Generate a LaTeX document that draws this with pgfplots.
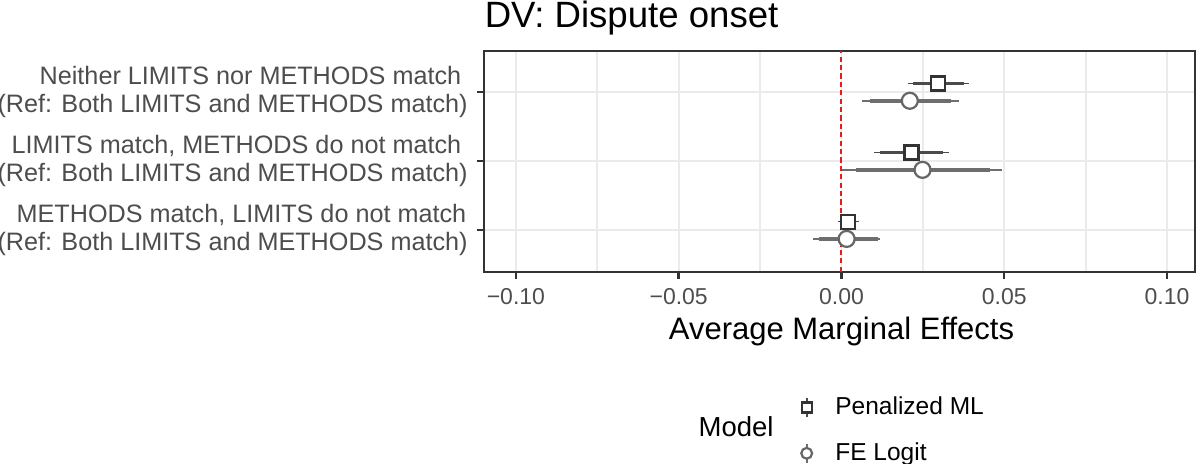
\documentclass[border=0pt]{standalone}
\usepackage{pgfplots}
\pgfplotsset{compat=1.18}
\usepackage{pgfplotstable}
\usepackage{fontspec}
\setmainfont{Liberation Sans}
\definecolor{gridc}{RGB}{235,235,235}
\definecolor{axc}{RGB}{51,51,51}
\definecolor{txtc}{RGB}{77,77,77}
\definecolor{sqc}{RGB}{51,51,51}
\definecolor{sqline}{RGB}{75,75,75}
\definecolor{cic}{RGB}{102,102,102}
\definecolor{ciline}{RGB}{110,110,110}
\definecolor{zeroc}{RGB}{228,30,30}

% y = category position with dodge; m = estimate; 95% (thin) and 90% (thick) intervals
\pgfplotstableread{
y m lo95 hi95 lo90 hi90
3.125 0.0297 0.0203 0.0391 0.0220 0.0377
2.125 0.0215 0.0101 0.0330 0.0118 0.0312
1.125 0.0021 -0.0012 0.0054 0.0000 0.0044
}\pml
\pgfplotstableread{
y m lo95 hi95 lo90 hi90
2.875 0.0210 0.0062 0.0360 0.0087 0.0338
1.875 0.0249 0.0003 0.0494 0.0044 0.0456
0.875 0.0016 -0.0087 0.0118 -0.0068 0.0113
}\fel
\pgfplotstableread{
x y
0 0.4
0 3.6
}\zeroline

\begin{document}
\begin{tikzpicture}
\path[use as bounding box] (0,0) rectangle (600pt,231.5pt);
\begin{axis}[
  name=ax,
  at={(242pt,95.65pt)}, anchor=south west,
  scale only axis, width=355.5pt, height=110.5pt,
  xmin=-0.1098, xmax=0.1086, ymin=0.4, ymax=3.6,
  axis line style={draw=axc, line width=0.8pt},
  xtick={-0.1,-0.05,0,0.05,0.1},
  xticklabels={−0.10,−0.05,0.00,0.05,0.10},
  minor xtick={-0.075,-0.025,0.025,0.075},
  ytick={1,2,3},
  yticklabels={
    {METHODS match, LIMITS do not match\hspace*{0.7pt}\\(Ref: Both LIMITS and METHODS match)},
    {LIMITS match, METHODS do not match\hspace*{3.2pt}\\(Ref: Both LIMITS and METHODS match)},
    {Neither LIMITS nor METHODS match\hspace*{3.2pt}\\(Ref: Both LIMITS and METHODS match)}},
  grid=both,
  major grid style={draw=gridc, line width=0.9pt},
  minor grid style={draw=gridc, line width=0.9pt},
  tick align=outside,
  tick pos=left,
  major tick length=3.5pt,
  minor tick length=0pt,
  tick style={draw=axc, line width=1.2pt},
  xticklabel style={font=\fontsize{11.5}{13.8}\selectfont, text=txtc, anchor=base, inner sep=0pt, yshift=-12.65pt},
  yticklabel style={font=\fontsize{12.6}{14}\selectfont, text=txtc, align=right, anchor=east, inner sep=0pt, xshift=-4.5pt},
  xlabel={Average Marginal Effects},
  xlabel style={at={(rel axis cs:0.5,0)}, anchor=base, inner sep=0pt, xshift=1pt, yshift=-33.8pt, font=\fontsize{15.5}{18}\selectfont},
  title={DV: Dispute onset},
  title style={at={(rel axis cs:0,1)}, anchor=base west, inner sep=0pt, xshift=0.2pt, yshift=5.85pt, font=\fontsize{18.3}{21}\selectfont},
  legend style={at={(rel axis cs:0,0)}, anchor=north west, xshift=157.35pt, yshift=-56.45pt,
    draw=none, fill=none, inner sep=0pt, outer sep=0pt, row sep=0pt, column sep=0pt,
    font=\fontsize{12.25}{14}\selectfont, nodes={inner sep=0pt, outer sep=0pt}},
  legend cell align=left,
]
\addplot[draw=zeroc, line width=1.0pt, dash pattern=on 2.6pt off 1.6pt, mark=none, forget plot] table[x=x, y=y] {\zeroline};

% Penalized ML intervals
\addplot[draw=none, mark=none, forget plot, error bars/.cd, x dir=both, x explicit, error mark=none,
  error bar style={draw=sqline, line width=0.8pt}]
  table[x=m, y=y, x error plus expr=\thisrow{hi95}-\thisrow{m}, x error minus expr=\thisrow{m}-\thisrow{lo95}] {\pml};
\addplot[draw=none, mark=none, forget plot, error bars/.cd, x dir=both, x explicit, error mark=none,
  error bar style={draw=sqline, line width=1.8pt}]
  table[x=m, y=y, x error plus expr=\thisrow{hi90}-\thisrow{m}, x error minus expr=\thisrow{m}-\thisrow{lo90}] {\pml};
% FE Logit intervals
\addplot[draw=none, mark=none, forget plot, error bars/.cd, x dir=both, x explicit, error mark=none,
  error bar style={draw=ciline, line width=0.8pt}]
  table[x=m, y=y, x error plus expr=\thisrow{hi95}-\thisrow{m}, x error minus expr=\thisrow{m}-\thisrow{lo95}] {\fel};
\addplot[draw=none, mark=none, forget plot, error bars/.cd, x dir=both, x explicit, error mark=none,
  error bar style={draw=ciline, line width=1.8pt}]
  table[x=m, y=y, x error plus expr=\thisrow{hi90}-\thisrow{m}, x error minus expr=\thisrow{m}-\thisrow{lo90}] {\fel};

\addplot[only marks, mark=square*, mark size=3.5pt, mark options={draw=sqc, fill=white, line width=1.1pt},
  legend image code/.code={
    \path[draw=none, fill=none] (-4pt,-11.45pt) rectangle (14.35pt,11.45pt);
    \draw[sqline, line width=1pt] (0pt,-4.8pt) -- (0pt,4.8pt);
    \draw[sqc, fill=white, line width=1.1pt] (-2.5pt,-2.5pt) rectangle (2.5pt,2.5pt);}]
  table[x=m, y=y] {\pml};
\addlegendentry{Penalized ML}
\addplot[only marks, mark=*, mark size=4pt, mark options={draw=cic, fill=white, line width=1.1pt},
  legend image code/.code={
    \path[draw=none, fill=none] (-4pt,-11.45pt) rectangle (14.35pt,11.45pt);
    \draw[ciline, line width=1pt] (0pt,-4.8pt) -- (0pt,4.8pt);
    \draw[cic, fill=white, line width=1.1pt] (0pt,0pt) circle (2.7pt);}]
  table[x=m, y=y] {\fel};
\addlegendentry{FE Logit}
\end{axis}
\node[anchor=base west, inner sep=0pt, font=\fontsize{13.75}{16}\selectfont] at ([xshift=107.15pt, yshift=-82.5pt]ax.south west) {Model};
\end{tikzpicture}
\end{document}
